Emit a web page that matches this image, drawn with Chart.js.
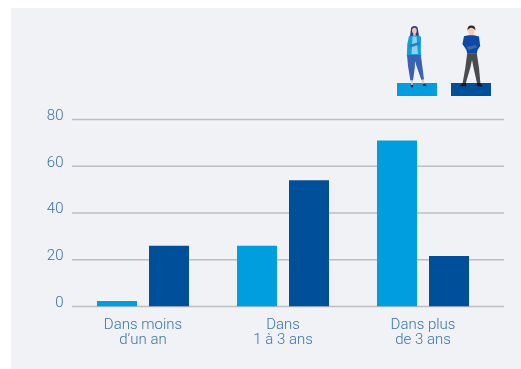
<!DOCTYPE html>
<html lang="fr">
<head>
<meta charset="utf-8">
<title>Ancienneté</title>
<script src="https://cdn.jsdelivr.net/npm/chart.js@4"></script>
<style>
  html, body { margin: 0; padding: 0; background: #fff; overflow: hidden; }
  #stage { position: relative; width: 521px; height: 369px; }
  #panel { position: absolute; left: 11px; top: 8px; right: 0; bottom: 0; background: #f1f2f5; }
  #chart { position: absolute; left: 0; top: 0; }
  #figures { position: absolute; left: 0; top: 0; }
</style>
</head>
<body>
<div id="stage">
  <div id="panel"></div>
  <canvas id="chart" width="521" height="369"></canvas>
  <svg id="figures" width="521" height="369" viewBox="0 0 521 369">
    <!-- woman -->
    <path d="M411.2 27.5 Q414.5 24.6 417.6 27.5 L419 36 L410 36 Z" fill="#2f3f86"/>
    <ellipse cx="414.4" cy="30.8" rx="2.3" ry="3" fill="#f2c4b4"/>
    <rect x="413.3" y="33" width="2.3" height="3.5" fill="#f2c4b4"/>
    <path d="M409 36 L419 35.5 L421 37 L420.8 52 L421.3 56.6 L417 55 L411.5 55 L406.8 56.4 L407.3 44 Z" fill="#149dd8"/>
    <path d="M412.5 36.5 L416.5 36.5 L418 54 L411.5 54 Z" fill="#8fd0ee"/>
    <path d="M409 45 L419.5 42 L420 44.5 L410 47.5 Z" fill="#1c86c4"/>
    <path d="M407 55 L420.6 55 L421.5 60 L424 79.5 L421.4 80 L416.5 66 L415 61 L414.8 68 L413 80.5 L410.4 80.5 L408 66 Z" fill="#3a62b2"/>
    <path d="M410.8 80.5 L412.8 80.5 L412.8 85 L411.2 85 Z M421.5 80 L423.6 79.5 L424.8 84 L423 84.6 Z" fill="#f2c4b4"/>
    <path d="M410.5 85 L413.3 84.8 L413 87.3 L411 87.3 Z M422.6 83.8 L424.8 83.6 L427 86.2 L423.6 86 Z" fill="#1d1f33"/>
    <!-- man -->
    <path d="M467.6 31 Q467 25.6 471.3 25.6 Q476 25.6 475.2 31 L474.4 29 L468.6 29 Z" fill="#33251f"/>
    <ellipse cx="471.3" cy="31.6" rx="3" ry="3.8" fill="#f5cdb6"/>
    <rect x="469.6" y="34" width="3.4" height="3" fill="#f5cdb6"/>
    <path d="M464 36.3 L468.5 35.2 L474 35.2 L479 36.5 L480.2 46 L477.5 50 L476.8 53.6 L467.2 53.6 L466.4 50 L462.4 44 Z" fill="#0c4aa6"/>
    <path d="M466 47 L476 45 L477 47.5 L469 50 Z" fill="#3967b5"/>
    <path d="M467.2 53.2 L476.8 53.2 L479 68 L480.4 83.2 L477 83.2 L473.4 67 L472 60 L470.5 67 L465.8 83.2 L462.6 83.2 L465.3 68 Z" fill="#4a4b4d"/>
    <path d="M462.6 83 L466 83 L466.2 86 L459.6 86.6 Z M477 83 L480.4 83 L483 86.4 L477 86 Z" fill="#17181a"/>
  </svg>
</div>
<script>
const categories = [["Dans moins", "d\u2019un an"], ["Dans", "1 \u00e0 3 ans"], ["Dans plus", "de 3 ans"]];
const womenValues = [2.4, 26, 71];
const menValues = [26, 54, 21.6];
const yTicks = [0, 20, 40, 60, 80];

const lightBlue = "#009ddf";
const darkBlue = "#004f9b";
const inkBlue = "#3b72ae";
const gridGrey = "#bdbec0";
const labelFont = { family: "Roboto", size: 15, weight: "300" };

// Horizontal rules run a little past the last category, and the two
// colour keys sit under the figures above the plot.
const decorations = {
  id: "decorations",
  beforeDatasetsDraw(chart) {
    const { ctx, scales: { y } } = chart;
    ctx.save();
    ctx.strokeStyle = gridGrey;
    ctx.lineWidth = 1.4;
    yTicks.forEach(v => {
      const py = y.getPixelForValue(v);
      ctx.beginPath();
      ctx.moveTo(72, py);
      ctx.lineTo(504, py);
      ctx.stroke();
    });
    ctx.restore();
  },
  afterDraw(chart) {
    const { ctx } = chart;
    ctx.save();
    ctx.fillStyle = lightBlue;
    ctx.fillRect(397, 83, 40, 13);
    ctx.fillStyle = darkBlue;
    ctx.fillRect(451, 83, 40, 13);
    ctx.restore();
  }
};

new Chart(document.getElementById("chart"), {
  type: "bar",
  plugins: [decorations],
  data: {
    labels: categories,
    datasets: [
      { label: "Femmes", data: womenValues, backgroundColor: lightBlue, categoryPercentage: 0.743, barPercentage: 0.769 },
      { label: "Hommes", data: menValues, backgroundColor: darkBlue, categoryPercentage: 0.743, barPercentage: 0.769 }
    ]
  },
  options: {
    responsive: false,
    animation: false,
    layout: { padding: { top: 119.5, right: 28, bottom: 0, left: 0 } },
    plugins: { legend: { display: false }, tooltip: { enabled: false } },
    scales: {
      x: {
        grid: { display: false, drawTicks: false },
        border: { display: false },
        ticks: { color: inkBlue, font: { ...labelFont, lineHeight: 1.03 }, padding: 11, maxRotation: 0, autoSkip: false },
        afterFit(scale) { scale.height = 62.5; }
      },
      y: {
        min: 0,
        max: 80,
        grid: { display: false, drawTicks: false },
        border: { display: false },
        ticks: { stepSize: 20, color: inkBlue, font: labelFont, padding: 9.5, labelOffset: -3.5, callback: v => String(v) },
        afterFit(scale) { scale.width = 73; }
      }
    }
  }
});
</script>
</body>
</html>
